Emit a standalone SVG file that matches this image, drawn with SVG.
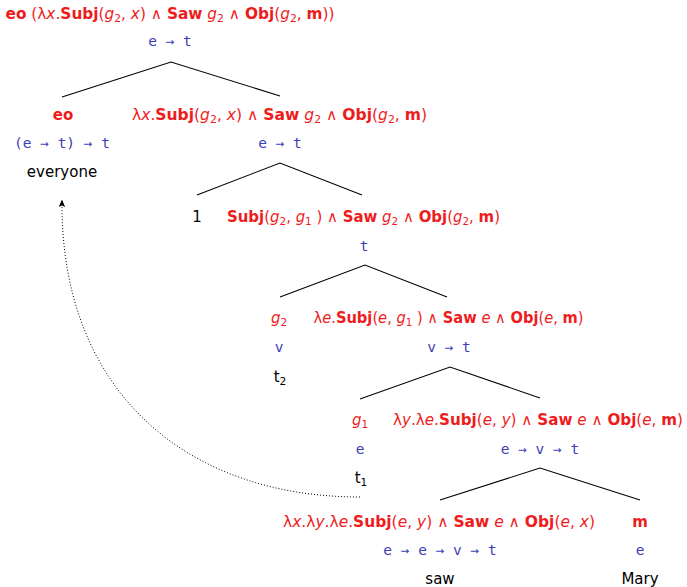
<svg xmlns="http://www.w3.org/2000/svg" width="687" height="587" viewBox="0 0 687 587">
<defs>
<style>
.r{fill:#ee1c1c;font-family:"DejaVu Sans","Liberation Sans",sans-serif;font-size:15px;text-anchor:middle}
.b{font-weight:bold}
.v{font-style:italic;font-family:"DejaVu Sans","Liberation Sans",sans-serif}
.s{font-size:10.5px;baseline-shift:-3px}
.t{fill:#3e3eb8;font-family:"DejaVu Sans Mono","Liberation Mono",monospace;font-size:14.5px;text-anchor:middle}
.w{fill:#000;font-family:"DejaVu Sans","Liberation Sans",sans-serif;font-size:15px;text-anchor:middle}
.ln{stroke:#000;stroke-width:1.1;fill:none}
.dot{stroke:#000;stroke-width:1;fill:none;stroke-dasharray:1 2}
</style>
<marker id="ah" viewBox="0 0 8 8" refX="7" refY="4" markerWidth="8" markerHeight="8" markerUnits="userSpaceOnUse" orient="auto">
<path d="M0,0.8 L7.5,4 L0,7.2 L1.5,4 Z" fill="#000"/>
</marker>
</defs>
<rect width="687" height="587" fill="#fff"/>
<g id="connectors">
<path class="ln" d="M62,97 L171,62 L280,96"/>
<path class="ln" d="M197,195 L280,163 L362,195"/>
<path class="ln" d="M280,297 L365,265 L447,297"/>
<path class="ln" d="M360,399 L450,367 L540,398"/>
<path class="ln" d="M440,500 L540,468 L640,500"/>
<path class="dot" d="M360,497 C185,497 60,390 62,200" marker-end="url(#ah)"/>
</g>
<g id="root">
<text class="r" x="170" y="19" textLength="329" lengthAdjust="spacingAndGlyphs"><tspan class="b">eo</tspan> (λ<tspan class="v">x</tspan>.<tspan class="b">Subj</tspan>(<tspan class="v">g</tspan><tspan class="s">2</tspan>, <tspan class="v">x</tspan>) ∧ <tspan class="b">Saw</tspan> <tspan class="v">g</tspan><tspan class="s">2</tspan> ∧ <tspan class="b">Obj</tspan>(<tspan class="v">g</tspan><tspan class="s">2</tspan>, <tspan class="b">m</tspan>))</text>
<text class="t" x="170" y="46">e → t</text>
</g>
<g id="everyone">
<text class="r b" x="63" y="120">eo</text>
<text class="t" x="62" y="148">(e → t) → t</text>
<text class="w" x="62" y="177">everyone</text>
</g>
<g id="n1">
<text class="r" x="279.5" y="120" textLength="295" lengthAdjust="spacingAndGlyphs">λ<tspan class="v">x</tspan>.<tspan class="b">Subj</tspan>(<tspan class="v">g</tspan><tspan class="s">2</tspan>, <tspan class="v">x</tspan>) ∧ <tspan class="b">Saw</tspan> <tspan class="v">g</tspan><tspan class="s">2</tspan> ∧ <tspan class="b">Obj</tspan>(<tspan class="v">g</tspan><tspan class="s">2</tspan>, <tspan class="b">m</tspan>)</text>
<text class="t" x="280" y="148">e → t</text>
</g>
<g id="index1">
<text class="w" x="197" y="222">1</text>
</g>
<g id="n2">
<text class="r" x="363.5" y="222" textLength="273" lengthAdjust="spacingAndGlyphs"><tspan class="b">Subj</tspan>(<tspan class="v">g</tspan><tspan class="s">2</tspan>, <tspan class="v">g</tspan><tspan class="s">1</tspan> ) ∧ <tspan class="b">Saw</tspan> <tspan class="v">g</tspan><tspan class="s">2</tspan> ∧ <tspan class="b">Obj</tspan>(<tspan class="v">g</tspan><tspan class="s">2</tspan>, <tspan class="b">m</tspan>)</text>
<text class="t" x="364" y="251">t</text>
</g>
<g id="g2">
<text class="r" x="279" y="323"><tspan class="v">g</tspan><tspan class="s">2</tspan></text>
<text class="t" x="279" y="352">v</text>
<text class="w" x="280" y="382">t<tspan class="s">2</tspan></text>
</g>
<g id="n3">
<text class="r" x="448.5" y="323" textLength="270" lengthAdjust="spacingAndGlyphs">λ<tspan class="v">e</tspan>.<tspan class="b">Subj</tspan>(<tspan class="v">e</tspan>, <tspan class="v">g</tspan><tspan class="s">1</tspan> ) ∧ <tspan class="b">Saw</tspan> <tspan class="v">e</tspan> ∧ <tspan class="b">Obj</tspan>(<tspan class="v">e</tspan>, <tspan class="b">m</tspan>)</text>
<text class="t" x="449" y="352">v → t</text>
</g>
<g id="g1">
<text class="r" x="360" y="425"><tspan class="v">g</tspan><tspan class="s">1</tspan></text>
<text class="t" x="360" y="454">e</text>
<text class="w" x="361" y="483">t<tspan class="s">1</tspan></text>
</g>
<g id="n4">
<text class="r" x="538" y="425" textLength="290" lengthAdjust="spacingAndGlyphs">λ<tspan class="v">y</tspan>.λ<tspan class="v">e</tspan>.<tspan class="b">Subj</tspan>(<tspan class="v">e</tspan>, <tspan class="v">y</tspan>) ∧ <tspan class="b">Saw</tspan> <tspan class="v">e</tspan> ∧ <tspan class="b">Obj</tspan>(<tspan class="v">e</tspan>, <tspan class="b">m</tspan>)</text>
<text class="t" x="540" y="454">e → v → t</text>
</g>
<g id="saw">
<text class="r" x="439" y="527" textLength="312" lengthAdjust="spacingAndGlyphs">λ<tspan class="v">x</tspan>.λ<tspan class="v">y</tspan>.λ<tspan class="v">e</tspan>.<tspan class="b">Subj</tspan>(<tspan class="v">e</tspan>, <tspan class="v">y</tspan>) ∧ <tspan class="b">Saw</tspan> <tspan class="v">e</tspan> ∧ <tspan class="b">Obj</tspan>(<tspan class="v">e</tspan>, <tspan class="v">x</tspan>)</text>
<text class="t" x="440" y="555">e → e → v → t</text>
<text class="w" x="440" y="584">saw</text>
</g>
<g id="mary">
<text class="r b" x="640" y="527">m</text>
<text class="t" x="640" y="555">e</text>
<text class="w" x="640" y="584">Mary</text>
</g>
</svg>
